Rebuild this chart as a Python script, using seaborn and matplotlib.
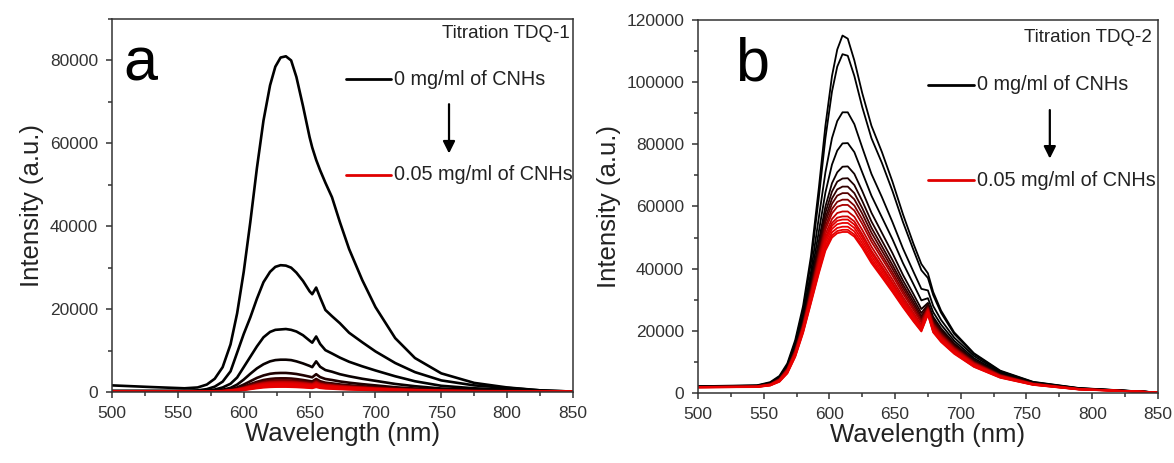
import matplotlib
matplotlib.use("Agg")
import matplotlib.pyplot as plt
import pandas as pd
import seaborn as sns
from matplotlib.ticker import MultipleLocator

# ---- panel a: Titration TDQ-1 ----
wl_a = [500, 530, 555, 565, 572, 578, 584, 590, 595, 600, 605, 610, 615, 620, 624, 628, 632, 636, 640,
        645, 650, 652, 655, 658, 662, 667, 673, 680, 690, 700, 715, 730, 750, 775, 800, 825, 850]
tdq1 = [
    [1600, 1200, 900, 1100, 1800, 3200, 6000, 11500, 19000, 29000, 41000, 54000, 65500, 74000, 78500, 80700, 81000, 80000, 76000,
     69000, 61500, 59000, 56000, 53500, 50500, 47000, 41000, 34500, 27000, 20500, 13000, 8200, 4500, 2200, 1100, 400, 100],
    [300, 300, 300, 400, 700, 1300, 2500, 5000, 9500, 14000, 18000, 22500, 26500, 29000, 30200, 30600, 30500, 30000, 28800,
     26800, 24300, 23600, 25200, 22800, 19800, 18300, 16600, 14300, 12000, 9800, 7000, 4800, 2800, 1600, 1000, 400, 100],
    [200, 200, 200, 250, 350, 600, 1100, 2000, 3500, 6000, 8500, 11000, 13200, 14500, 15000, 15100, 15200, 15000, 14600,
     13700, 12400, 11900, 13400, 11600, 10100, 9300, 8300, 7300, 6200, 5200, 3800, 2600, 1500, 900, 600, 250, 50],
    [150, 150, 150, 170, 220, 330, 550, 1000, 1800, 3000, 4400, 5700, 6700, 7400, 7700, 7800, 7800, 7700, 7400,
     6900, 6300, 6000, 7400, 6100, 5300, 4900, 4300, 3800, 3200, 2700, 1950, 1400, 850, 550, 400, 200, 50],
    [100, 100, 100, 120, 160, 220, 350, 650, 1100, 1800, 2600, 3400, 4000, 4400, 4550, 4600, 4600, 4500, 4350,
     4050, 3700, 3550, 4300, 3600, 3150, 2900, 2550, 2250, 1900, 1600, 1150, 850, 500, 350, 250, 150, 40],
    [80, 80, 80, 90, 120, 170, 270, 480, 800, 1300, 1900, 2450, 2900, 3150, 3270, 3300, 3300, 3250, 3120,
     2900, 2650, 2550, 3150, 2600, 2250, 2080, 1830, 1620, 1380, 1150, 850, 600, 380, 260, 180, 100, 30],
    [60, 60, 60, 70, 100, 140, 230, 400, 680, 1100, 1600, 2100, 2450, 2680, 2780, 2800, 2800, 2760, 2650,
     2460, 2250, 2160, 2700, 2200, 1920, 1770, 1560, 1380, 1170, 980, 720, 520, 320, 220, 150, 80, 20],
    [50, 50, 50, 60, 90, 120, 200, 360, 600, 980, 1420, 1850, 2200, 2400, 2480, 2500, 2500, 2460, 2370,
     2200, 2000, 1920, 2400, 1960, 1710, 1580, 1390, 1230, 1050, 870, 640, 460, 290, 200, 130, 70, 20],
    [40, 40, 40, 50, 80, 110, 180, 330, 550, 900, 1300, 1700, 2020, 2200, 2280, 2300, 2300, 2260, 2180,
     2020, 1840, 1770, 2200, 1800, 1570, 1450, 1280, 1130, 970, 800, 590, 420, 270, 180, 120, 60, 20],
    [40, 40, 40, 45, 70, 100, 170, 300, 500, 820, 1190, 1550, 1850, 2010, 2080, 2100, 2100, 2060, 1990,
     1850, 1680, 1620, 2000, 1650, 1430, 1330, 1170, 1030, 880, 730, 540, 390, 240, 170, 110, 60, 20],
    [30, 30, 30, 40, 65, 90, 150, 270, 460, 740, 1080, 1400, 1670, 1820, 1880, 1900, 1900, 1860, 1800,
     1670, 1520, 1460, 1820, 1490, 1300, 1200, 1060, 930, 800, 660, 490, 350, 220, 150, 100, 50, 20],
    [30, 30, 30, 35, 55, 80, 135, 240, 410, 660, 960, 1250, 1500, 1630, 1690, 1700, 1700, 1670, 1610,
     1500, 1360, 1310, 1630, 1330, 1160, 1070, 950, 830, 720, 590, 440, 310, 200, 140, 90, 50, 20],
    [20, 20, 20, 30, 50, 70, 120, 210, 360, 590, 850, 1100, 1320, 1440, 1490, 1500, 1500, 1470, 1420,
     1320, 1200, 1160, 1440, 1180, 1030, 950, 840, 740, 630, 520, 390, 280, 170, 120, 80, 40, 10],
    [20, 20, 20, 25, 40, 60, 100, 180, 310, 510, 740, 960, 1140, 1250, 1290, 1300, 1300, 1270, 1230,
     1140, 1040, 1000, 1250, 1020, 890, 820, 730, 640, 550, 450, 340, 240, 150, 100, 70, 30, 10],
]

# ---- panel b: Titration TDQ-2 ----
wl_b = [500, 545, 555, 562, 568, 574, 580, 586, 592, 597, 602, 606, 610, 614, 619, 625,
        632, 640, 648, 656, 664, 670, 675, 679, 685, 695, 710, 730, 755, 790, 850]
tdq2 = [
    [2200, 2500, 3500, 5500, 9500, 17000, 28000, 44000, 66000, 86000, 102000, 110500, 115000, 114000, 107000, 96500,
     86000, 77500, 68000, 57500, 48000, 41500, 38500, 32500, 26500, 19500, 12800, 7200, 3600, 1600, 200],
    [2100, 2400, 3300, 5200, 9000, 16200, 26800, 42000, 63000, 82000, 97000, 105000, 109000, 108500, 102000, 92000,
     82000, 74000, 65000, 55000, 46000, 39500, 37000, 31500, 25800, 19000, 12500, 7000, 3500, 1550, 200],
    [2100, 2350, 3200, 5000, 8600, 15300, 25200, 39000, 56500, 71000, 82000, 87500, 90300, 90300, 86500, 79000,
     70500, 63000, 55000, 46500, 39000, 33500, 33000, 28000, 23500, 17800, 11900, 6700, 3400, 1500, 200],
    [2000, 2300, 3100, 4800, 8300, 14700, 24000, 37000, 52000, 64500, 73500, 78000, 80300, 80400, 77500, 71000,
     63500, 56500, 49500, 41800, 35000, 29800, 30500, 26000, 22000, 16800, 11200, 6400, 3300, 1450, 200],
    [2000, 2250, 3000, 4700, 8000, 14200, 23200, 35500, 49000, 60000, 67500, 71000, 72800, 72900, 70500, 65000,
     58000, 51500, 45000, 38000, 31800, 27000, 29000, 24500, 20800, 16000, 10700, 6100, 3200, 1400, 200],
    [2000, 2250, 2950, 4600, 7900, 14000, 22800, 34700, 47500, 58000, 64800, 68000, 69000, 69100, 66900, 61800,
     55200, 49000, 42800, 36200, 30300, 25700, 28500, 23800, 20200, 15600, 10400, 6000, 3150, 1400, 200],
    [2000, 2200, 2900, 4500, 7800, 13800, 22400, 34000, 46300, 56300, 62600, 65500, 66400, 66400, 64300, 59500,
     53200, 47200, 41200, 34900, 29200, 24700, 28000, 23200, 19700, 15200, 10200, 5900, 3100, 1350, 200],
    [1950, 2200, 2850, 4450, 7700, 13600, 22100, 33400, 45300, 55000, 60900, 63500, 64300, 64300, 62300, 57700,
     51600, 45800, 40000, 33900, 28300, 24000, 27700, 22800, 19300, 14900, 10000, 5800, 3050, 1350, 200],
    [1950, 2150, 2800, 4400, 7600, 13400, 21800, 32800, 44300, 53600, 59200, 61500, 62200, 62200, 60300, 55900,
     50000, 44400, 38800, 32900, 27400, 23300, 27400, 22300, 18900, 14600, 9800, 5700, 3000, 1300, 200],
    [1900, 2100, 2750, 4300, 7500, 13200, 21500, 32300, 43500, 52500, 57800, 59900, 60500, 60500, 58700, 54400,
     48700, 43300, 37800, 32000, 26700, 22700, 27100, 21900, 18500, 14300, 9600, 5600, 2950, 1300, 200],
    [1900, 2100, 2700, 4200, 7300, 12900, 21100, 31600, 42400, 51100, 56000, 57900, 58400, 58400, 56700, 52500,
     47100, 41800, 36500, 30900, 25800, 21900, 26800, 21400, 18100, 14000, 9400, 5500, 2900, 1250, 200],
    [1900, 2050, 2650, 4100, 7100, 12700, 20800, 31100, 41600, 50000, 54700, 56400, 56800, 56800, 55200, 51100,
     45800, 40700, 35500, 30100, 25100, 21300, 26500, 21000, 17800, 13700, 9200, 5400, 2850, 1250, 200],
    [1850, 2000, 2600, 4000, 7000, 12500, 20600, 30800, 41100, 49300, 53800, 55400, 55800, 55800, 54200, 50200,
     45000, 40000, 34900, 29600, 24700, 21000, 26200, 20700, 17500, 13500, 9100, 5300, 2800, 1200, 200],
    [1850, 2000, 2550, 3900, 6800, 12300, 20300, 30300, 40500, 48400, 52800, 54300, 54700, 54700, 53100, 49200,
     44100, 39200, 34200, 29000, 24200, 20600, 26000, 20400, 17200, 13300, 8900, 5200, 2750, 1200, 200],
    [1800, 1950, 2500, 3800, 6600, 12000, 19900, 29800, 39700, 47400, 51700, 53100, 53500, 53500, 52000, 48200,
     43200, 38400, 33500, 28400, 23700, 20300, 25700, 20000, 16900, 13000, 8700, 5100, 2700, 1150, 200],
    [1800, 1950, 2450, 3700, 6400, 11800, 19600, 29300, 39000, 46500, 50700, 52100, 52500, 52500, 51000, 47300,
     42400, 37700, 32900, 27900, 23300, 20000, 25400, 19700, 16600, 12800, 8500, 5000, 2650, 1150, 200],
    [1800, 1900, 2400, 3600, 6300, 11600, 19300, 28900, 38500, 45800, 50000, 51400, 51800, 51800, 50300, 46700,
     41800, 37200, 32500, 27600, 23000, 19800, 25200, 19500, 16400, 12600, 8400, 4900, 2600, 1100, 200],
]

sns.set_theme(style="ticks")
plt.rcParams["font.family"] = ["Liberation Sans", "DejaVu Sans"]
plt.rcParams["axes.linewidth"] = 1.1
plt.rcParams["axes.edgecolor"] = "#333333"


def to_frame(wl, curves):
    rows = []
    for k, vals in enumerate(curves):
        assert len(vals) == len(wl), (k, len(vals))
        for w, v in zip(wl, vals):
            rows.append({"curve": k, "wl": w, "I": v})
    return pd.DataFrame(rows)


def panel(ax, wl, curves, lw, ymax, letter, title, lpos):
    df = to_frame(wl, curves)
    pal = sns.blend_palette(["#000000", "#000000", "#3a0000", "#c00000", "#e80000", "#e80000"],
                            len(curves))
    sns.lineplot(data=df, x="wl", y="I", hue="curve", palette=pal, estimator=None,
                 linewidth=lw, legend=False, ax=ax)
    ax.set_xlim(500, 850)
    ax.set_ylim(0, ymax)
    ax.xaxis.set_major_locator(MultipleLocator(50))
    ax.xaxis.set_minor_locator(MultipleLocator(25))
    ax.yaxis.set_major_locator(MultipleLocator(20000))
    ax.yaxis.set_minor_locator(MultipleLocator(10000))
    ax.tick_params(which="major", length=4, width=1.1, labelsize=12.5, pad=6,
                   colors="#333333", labelcolor="#333333")
    ax.tick_params(which="minor", length=3, width=1.1, colors="#333333")
    ax.set_xlabel("Wavelength (nm)", fontsize=18.5, color="#222222", labelpad=1)
    ax.set_ylabel("Intensity (a.u.)", fontsize=18.5, color="#222222", labelpad=4)
    for s in ax.spines.values():
        s.set_visible(True)

    # panel letter and title
    ax.text(lpos[0], lpos[1], letter, transform=ax.transAxes, fontsize=44,
            ha="left", va="baseline", color="black")
    ax.text(lpos[2], lpos[3], title, transform=ax.transAxes, fontsize=13.5,
            ha="right", va="center", color="#222222")
    # legend: first and last concentration with an arrow between
    x0, x1, ytop, ybot, xarr = lpos[4], lpos[5], lpos[6], lpos[7], lpos[8]
    ax.plot([x0, x1], [ytop, ytop], color="black", lw=2, transform=ax.transAxes)
    ax.plot([x0, x1], [ybot, ybot], color="#e00000", lw=2, transform=ax.transAxes)
    ax.text(x1 + 0.006, ytop, "0 mg/ml of CNHs", transform=ax.transAxes,
            fontsize=14.3, va="center", ha="left", color="#222222")
    ax.text(x1 + 0.006, ybot, "0.05 mg/ml of CNHs", transform=ax.transAxes,
            fontsize=14.3, va="center", ha="left", color="#222222")
    ax.annotate("", xy=(xarr, ybot + 0.05), xytext=(xarr, ytop - 0.06),
                xycoords="axes fraction",
                arrowprops=dict(arrowstyle="-|>", color="black", lw=1.6,
                                mutation_scale=18))


fig = plt.figure(figsize=(11.74, 4.63), dpi=100)
ax1 = fig.add_axes([0.0954, 0.1533, 0.3927, 0.8057])
ax2 = fig.add_axes([0.5945, 0.1512, 0.3918, 0.8056])

panel(ax1, wl_a, tdq1, 1.9, 90000, "a", "Titration TDQ-1",
      [0.025, 0.836, 0.993, 0.962, 0.508, 0.605, 0.839, 0.582, 0.731])
panel(ax2, wl_b, tdq2, 1.3, 120000, "b", "Titration TDQ-2",
      [0.08, 0.839, 0.987, 0.954, 0.500, 0.600, 0.826, 0.571, 0.765])

fig.savefig("out.png", dpi=100)
